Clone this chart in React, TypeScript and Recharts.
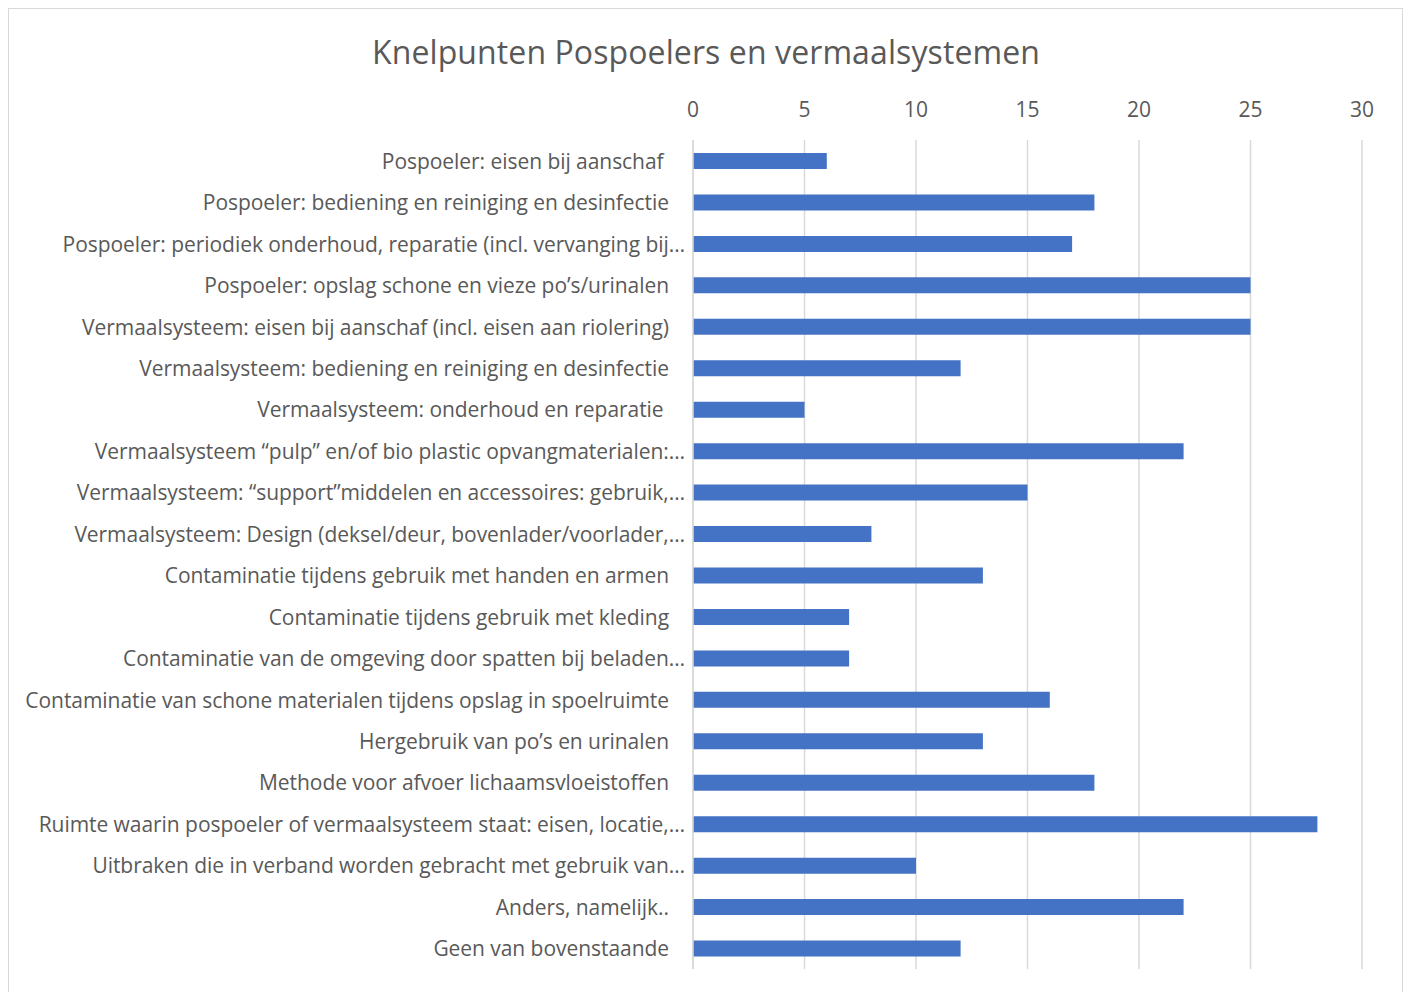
import React from "react";
import { Bar, BarChart, CartesianGrid, XAxis, YAxis } from "recharts";

const categories = [
  "Pospoeler: eisen bij aanschaf ",
  "Pospoeler: bediening en reiniging en desinfectie",
  "Pospoeler: periodiek onderhoud, reparatie (incl. vervanging bij…",
  "Pospoeler: opslag schone en vieze po’s/urinalen",
  "Vermaalsysteem: eisen bij aanschaf (incl. eisen aan riolering)",
  "Vermaalsysteem: bediening en reiniging en desinfectie",
  "Vermaalsysteem: onderhoud en reparatie ",
  "Vermaalsysteem “pulp” en/of bio plastic opvangmaterialen:…",
  "Vermaalsysteem: “support”middelen en accessoires: gebruik,…",
  "Vermaalsysteem: Design (deksel/deur, bovenlader/voorlader,…",
  "Contaminatie tijdens gebruik met handen en armen",
  "Contaminatie tijdens gebruik met kleding",
  "Contaminatie van de omgeving door spatten bij beladen…",
  "Contaminatie van schone materialen tijdens opslag in spoelruimte",
  "Hergebruik van po’s en urinalen",
  "Methode voor afvoer lichaamsvloeistoffen",
  "Ruimte waarin pospoeler of vermaalsysteem staat: eisen, locatie,…",
  "Uitbraken die in verband worden gebracht met gebruik van…",
  "Anders, namelijk..",
  "Geen van bovenstaande",
];

const counts = [6, 18, 17, 25, 25, 12, 5, 22, 15, 8, 13, 7, 7, 16, 13, 18, 28, 10, 22, 12];

const xTicks = [0, 5, 10, 15, 20, 25, 30];

const data = categories.map((name, i) => ({ name, value: counts[i] }));

const FONT = "'Open Sans', sans-serif";
const TEXT = "#595959";

const CategoryTick = (props: any) => {
  const { x, y, payload } = props;
  const label: string = payload.value;
  const shift = label.endsWith("…") ? 0 : 16;
  return (
    <text
      x={x - shift}
      y={y}
      textAnchor="end"
      dominantBaseline="central"
      fill={TEXT}
      fontSize={21}
      letterSpacing={-0.05}
      fontFamily={FONT}
      style={{ whiteSpace: "pre" }}
    >
      {label}
    </text>
  );
};

const ValueTick = (props: any) => {
  const { x, payload } = props;
  return (
    <text
      x={x}
      y={109}
      textAnchor="middle"
      dominantBaseline="central"
      fill={TEXT}
      fontSize={21}
      fontFamily={FONT}
    >
      {payload.value}
    </text>
  );
};

export default function App() {
  return (
    <div
      style={{
        position: "absolute",
        left: 0,
        top: 0,
        width: 1408,
        height: 992,
        overflow: "hidden",
        background: "#fff",
      }}
    >
      <div
        style={{
          position: "absolute",
          left: 8,
          top: 8,
          width: 1395,
          height: 1010,
          border: "1.5px solid #d9d9d9",
          boxSizing: "border-box",
        }}
      />
      <div
        style={{
          position: "absolute",
          left: 0,
          top: 30,
          width: 1412,
          textAlign: "center",
          fontFamily: FONT,
          fontSize: 32,
          color: TEXT,
          letterSpacing: 0.1,
        }}
      >
        Knelpunten Pospoelers en vermaalsystemen
      </div>
      <div style={{ position: "absolute", left: 0, top: 0 }}>
        <BarChart
          width={1408}
          height={992}
          layout="vertical"
          data={data}
          margin={{ top: 110, right: 46, bottom: 23, left: 0 }}
        >
          <CartesianGrid horizontal={false} stroke="#d9d9d9" strokeWidth={1.5} />
          <XAxis
            type="number"
            orientation="top"
            domain={[0, 30]}
            ticks={xTicks}
            height={30}
            axisLine={false}
            tickLine={false}
            tick={<ValueTick />}
          />
          <YAxis
            type="category"
            dataKey="name"
            width={693}
            axisLine={{ stroke: "#d9d9d9", strokeWidth: 1.5 }}
            tickLine={false}
            interval={0}
            tick={<CategoryTick />}
          />
          <Bar
            dataKey="value"
            fill="#4472c4"
            barSize={16}
            isAnimationActive={false}
          />
        </BarChart>
      </div>
    </div>
  );
}
